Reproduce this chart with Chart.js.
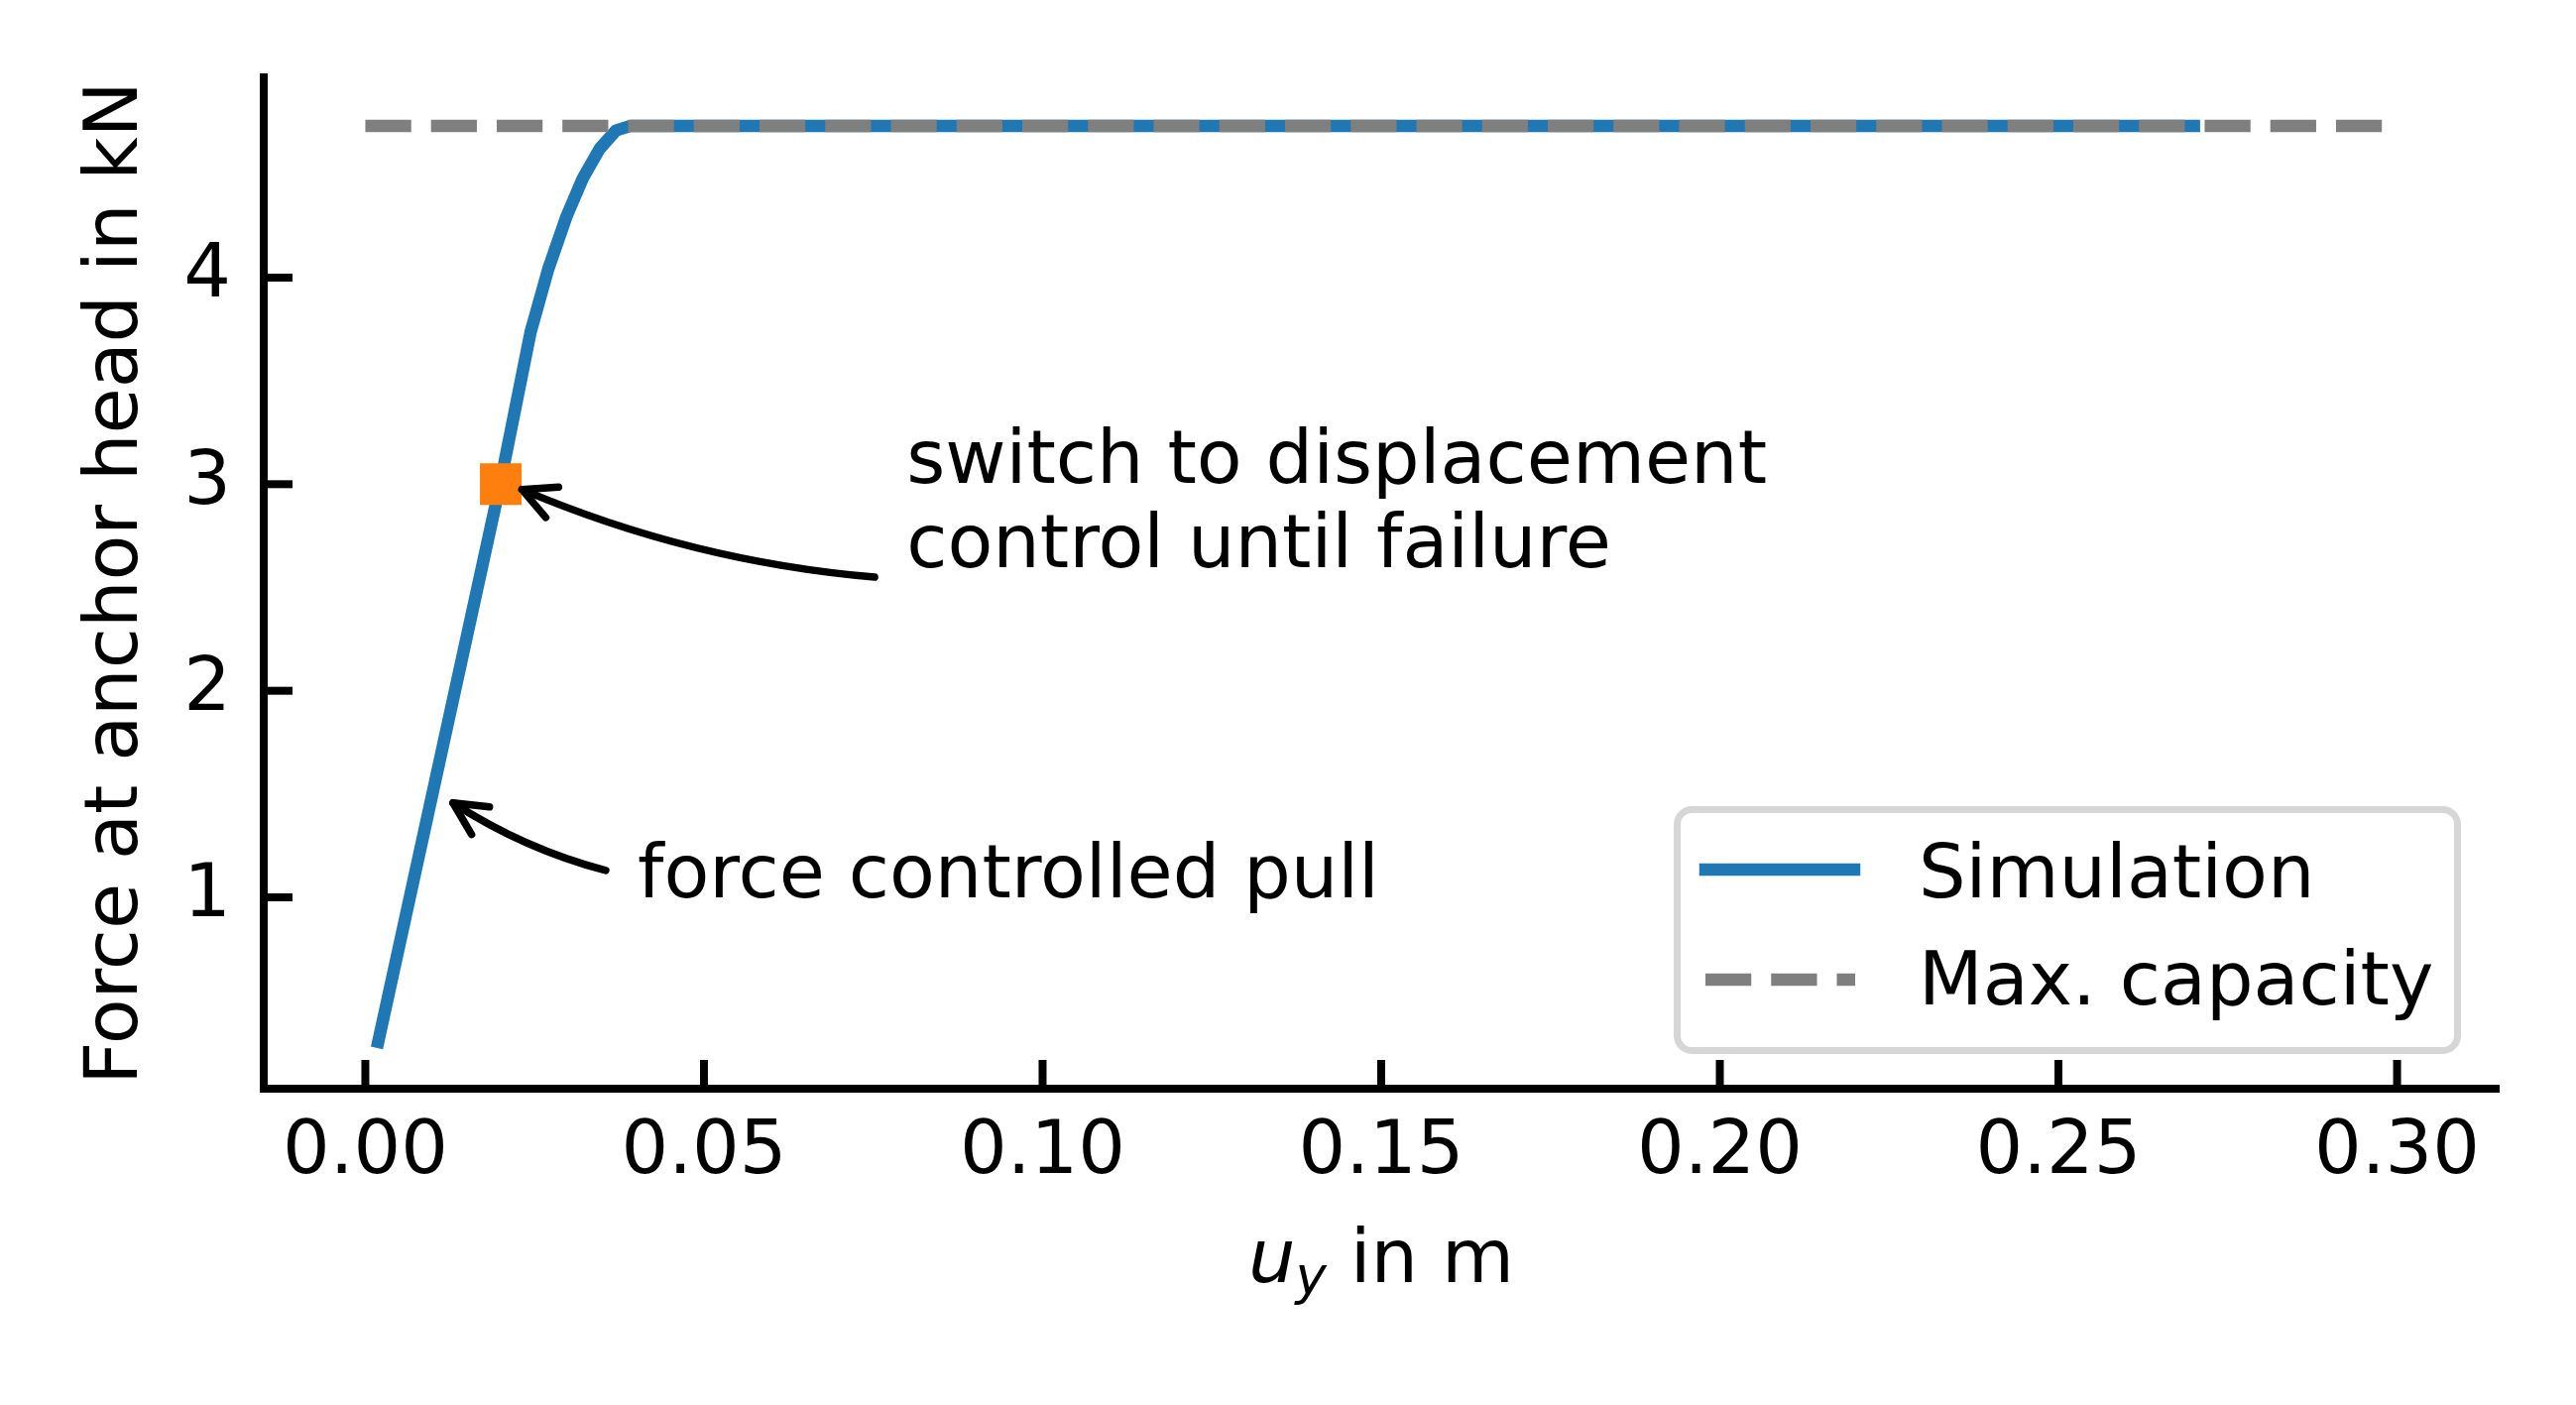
<!DOCTYPE html>
<html>
<head>
<meta charset="utf-8">
<script src="https://cdn.jsdelivr.net/npm/chart.js@4.4.1/dist/chart.umd.min.js"></script>
<style>
  html, body { margin: 0; padding: 0; background: #ffffff; }
  canvas { display: block; }
</style>
</head>
<body>
<canvas id="c" width="2598" height="1417"></canvas>
<script>
// ---- data ----
const simX = [0.0019, 0.0199, 0.0244, 0.0270, 0.0297, 0.0321, 0.0346, 0.0370, 0.0392, 0.2700];
const simY = [0.30, 3.00, 3.736, 4.040, 4.296, 4.480, 4.624, 4.712, 4.735, 4.735];
const capX = [0.0, 0.30];
const capY = [4.735, 4.735];
const switchX = [0.02];
const switchY = [3.0];
const xTicks = [0.00, 0.05, 0.10, 0.15, 0.20, 0.25, 0.30];
const xTickLabels = ['0.00', '0.05', '0.10', '0.15', '0.20', '0.25', '0.30'];
const yTicks = [1, 2, 3, 4];
const yTickLabels = ['1', '2', '3', '4'];
const seriesNames = ['Simulation', 'Max. capacity'];
const yTitle = 'Force at anchor head in kN';
const annotations = [
  { lines: ['switch to displacement', 'control until failure'], textX: 0.0799, textY: 3.006, lineGap: 85,
    xy: [0.02, 3.0], tail: [0.0752, 2.550] },
  { lines: ['force controlled pull'], textX: 0.0402, textY: 1.0, lineGap: 85,
    xy: [0.01, 1.5], tail: [0.0355, 1.130] }
];

// ---- styles ----
const FONT = '"DejaVu Sans", "Liberation Sans", sans-serif';
const FS = 75;
const BLUE = '#1f77b4', GRAY = '#7f7f7f', ORANGE = '#ff7f0e';
const LW = 12.5;
const DASH = [46.25, 20];

const toPts = (xs, ys) => xs.map((x, i) => ({ x: x, y: ys[i] }));

const decor = {
  id: 'decor',
  afterDatasetsDraw(chart) {
    const ctx = chart.ctx, xs = chart.scales.x, ys = chart.scales.y, a = chart.chartArea;
    ctx.save();
    ctx.strokeStyle = '#000'; ctx.lineWidth = 8; ctx.lineCap = 'butt';
    xTicks.forEach(v => { const px = xs.getPixelForValue(v); ctx.beginPath(); ctx.moveTo(px, a.bottom); ctx.lineTo(px, a.bottom - 29); ctx.stroke(); });
    yTicks.forEach(v => { const py = ys.getPixelForValue(v); ctx.beginPath(); ctx.moveTo(a.left, py); ctx.lineTo(a.left + 29, py); ctx.stroke(); });
    ctx.restore();
  },
  afterDraw(chart) {
    const ctx = chart.ctx, xs = chart.scales.x, ys = chart.scales.y, a = chart.chartArea;
    ctx.save();
    // annotations
    annotations.forEach(an => {
      ctx.fillStyle = '#000'; ctx.font = FS + 'px ' + FONT; ctx.textAlign = 'left'; ctx.textBaseline = 'alphabetic';
      const tx = xs.getPixelForValue(an.textX), ty = ys.getPixelForValue(an.textY);
      an.lines.forEach((ln, i) => ctx.fillText(ln, tx, ty + i * an.lineGap));
      const px = xs.getPixelForValue(an.xy[0]), py = ys.getPixelForValue(an.xy[1]);
      const sx = xs.getPixelForValue(an.tail[0]), sy = ys.getPixelForValue(an.tail[1]);
      let ux = sx - px, uy = sy - py; const ul = Math.hypot(ux, uy); ux /= ul; uy /= ul;
      const ex = px + 22 * ux, ey = py + 22 * uy;
      const dx = ex - sx, dy = ey - sy, f = 0.08;
      const cx = (sx + ex) / 2 + f * dy, cy = (sy + ey) / 2 - f * dx;
      ctx.strokeStyle = '#000'; ctx.lineWidth = 7.5; ctx.lineCap = 'round'; ctx.lineJoin = 'round';
      ctx.beginPath(); ctx.moveTo(sx, sy); ctx.quadraticCurveTo(cx, cy, ex, ey); ctx.stroke();
      const ang = Math.atan2(cy - ey, cx - ex), hl = 37, ha = 26.6 * Math.PI / 180;
      ctx.beginPath();
      ctx.moveTo(ex + hl * Math.cos(ang - ha), ey + hl * Math.sin(ang - ha));
      ctx.lineTo(ex, ey);
      ctx.lineTo(ex + hl * Math.cos(ang + ha), ey + hl * Math.sin(ang + ha));
      ctx.stroke();
    });
    // x axis title: u_y in m
    const cxT = (a.left + a.right) / 2, base = 1293;
    ctx.fillStyle = '#000'; ctx.textAlign = 'left'; ctx.textBaseline = 'alphabetic';
    ctx.font = 'italic ' + FS + 'px ' + FONT; const wu = ctx.measureText('u').width;
    ctx.font = 'italic 53px ' + FONT; const wy = ctx.measureText('y').width;
    ctx.font = FS + 'px ' + FONT; const wr = ctx.measureText(' in m').width;
    let x0 = cxT - (wu + wy + wr) / 2;
    ctx.font = 'italic ' + FS + 'px ' + FONT; ctx.fillText('u', x0, base); x0 += wu;
    ctx.font = 'italic 53px ' + FONT; ctx.fillText('y', x0, base + 12); x0 += wy;
    ctx.font = FS + 'px ' + FONT; ctx.fillText(' in m', x0, base);
    // legend
    const L = 1691.5, T = 816.5, W = 787, H = 243, r = 15;
    ctx.beginPath();
    ctx.moveTo(L + r, T); ctx.lineTo(L + W - r, T); ctx.arcTo(L + W, T, L + W, T + r, r);
    ctx.lineTo(L + W, T + H - r); ctx.arcTo(L + W, T + H, L + W - r, T + H, r);
    ctx.lineTo(L + r, T + H); ctx.arcTo(L, T + H, L, T + H - r, r);
    ctx.lineTo(L, T + r); ctx.arcTo(L, T, L + r, T, r); ctx.closePath();
    ctx.fillStyle = 'rgba(255,255,255,0.8)'; ctx.fill();
    ctx.strokeStyle = '#d6d6d6'; ctx.lineWidth = 7; ctx.stroke();
    ctx.lineWidth = LW;
    ctx.strokeStyle = BLUE; ctx.lineCap = 'square'; ctx.setLineDash([]);
    ctx.beginPath(); ctx.moveTo(1720, 877); ctx.lineTo(1870, 877); ctx.stroke();
    ctx.strokeStyle = GRAY; ctx.lineCap = 'butt'; ctx.setLineDash(DASH);
    ctx.beginPath(); ctx.moveTo(1720, 988); ctx.lineTo(1871, 988); ctx.stroke();
    ctx.setLineDash([]);
    ctx.fillStyle = '#000'; ctx.font = FS + 'px ' + FONT;
    ctx.fillText(seriesNames[0], 1935, 905);
    ctx.fillText(seriesNames[1], 1935, 1013);
    ctx.restore();
  }
};

new Chart(document.getElementById('c'), {
  type: 'scatter',
  data: {
    datasets: [
      { label: 'switch', data: toPts(switchX, switchY), showLine: false, pointStyle: 'rect', pointRadius: 29.7,
        pointHoverRadius: 29.7, backgroundColor: ORANGE, borderColor: ORANGE, borderWidth: 0, order: 0 },
      { label: seriesNames[1], data: toPts(capX, capY), showLine: true, borderColor: GRAY, borderWidth: LW,
        borderDash: DASH, borderCapStyle: 'butt', pointRadius: 0, pointHoverRadius: 0, order: 1 },
      { label: seriesNames[0], data: toPts(simX, simY), showLine: true, borderColor: BLUE, borderWidth: LW,
        borderCapStyle: 'square', borderJoinStyle: 'round', pointRadius: 0, pointHoverRadius: 0, tension: 0, order: 2 }
    ]
  },
  options: {
    responsive: false, animation: false, devicePixelRatio: 1,
    layout: { padding: { left: 0, top: 78, right: 78, bottom: 0 } },
    plugins: { legend: { display: false }, tooltip: { enabled: false } },
    font: { family: FONT, size: FS },
    scales: {
      x: {
        type: 'linear', min: -0.015, max: 0.315,
        afterBuildTicks: s => { s.ticks = xTicks.map(v => ({ value: v })); },
        afterFit: s => { s.height = 319; },
        grid: { display: false, drawTicks: false },
        border: { display: true, color: '#000', width: 8 },
        ticks: { autoSkip: false, maxRotation: 0, padding: 21, color: '#000', font: { family: FONT, size: FS },
                 callback: (v, i) => xTickLabels[i] }
      },
      y: {
        type: 'linear', min: 0.0736, max: 4.9696,
        afterBuildTicks: s => { s.ticks = yTicks.map(v => ({ value: v })); },
        afterFit: s => { s.width = 266; },
        grid: { display: false, drawTicks: false },
        border: { display: true, color: '#000', width: 8 },
        ticks: { autoSkip: false, padding: 33, color: '#000', font: { family: FONT, size: FS },
                 callback: (v, i) => yTickLabels[i] },
        title: { display: true, text: yTitle, color: '#000', font: { family: FONT, size: FS }, padding: { top: 74, bottom: 0 } }
      }
    }
  },
  plugins: [decor]
});
</script>
</body>
</html>
